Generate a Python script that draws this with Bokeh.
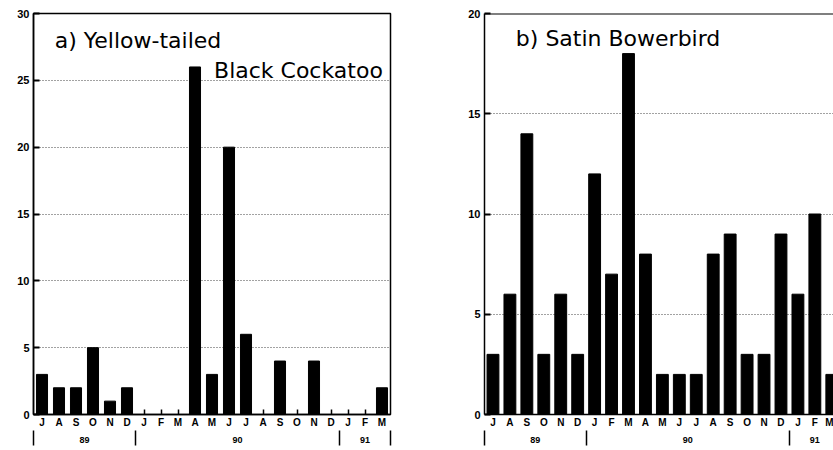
from bokeh.plotting import figure
from bokeh.models import (ColumnDataSource, FixedTicker, LinearAxis, Label,
                          Span, Range1d)
from bokeh.layouts import row
from bokeh.embed import file_html
from bokeh.resources import INLINE

# ---- data -------------------------------------------------------------
months = ["J", "A", "S", "O", "N", "D", "J", "F", "M", "A", "M",
          "J", "J", "A", "S", "O", "N", "D", "J", "F", "M"]
years = ["89", "90", "91"]
year_bounds = [-0.5, 5.5, 17.5, 20.5]  # month-index boundaries of the years
cockatoo = [3, 2, 2, 5, 1, 2, 0, 0, 0, 26, 3, 20, 6, 0, 4, 0, 4, 0, 0, 0, 2]
bowerbird = [3, 6, 14, 3, 6, 3, 12, 7, 18, 8, 2, 2, 2, 8, 9, 3, 3, 9, 6, 10, 2]
yticks_a = [0, 5, 10, 15, 20, 25, 30]
yticks_b = [0, 5, 10, 15, 20]

TICK_FONT = "Liberation Sans"
TITLE_FONT = "DejaVu Sans"


def make_panel(values, yticks, ymax, xr, width, height, borders, bar_w):
    left, right, top, bottom = borders
    p = figure(width=width, height=height, output_backend="svg",
               toolbar_location=None, x_range=Range1d(*xr),
               y_range=Range1d(0, ymax),
               min_border_left=left, min_border_right=right,
               min_border_top=top, min_border_bottom=bottom)
    p.background_fill_color = "white"
    p.border_fill_color = "white"
    src = ColumnDataSource(dict(x=list(range(len(values))), top=values))
    p.vbar(x="x", top="top", width=bar_w, color="black", source=src)

    # y axis
    ya = p.yaxis[0]
    ya.ticker = FixedTicker(ticks=yticks)
    ya.major_tick_in = 6
    ya.major_tick_out = 0
    ya.minor_tick_line_color = None
    ya.axis_line_width = 1.5
    ya.major_tick_line_width = 2
    ya.major_label_standoff = 4
    ya.major_label_text_font = TICK_FONT
    ya.major_label_text_font_style = "bold"
    ya.major_label_text_font_size = "11px"
    ya.major_label_text_color = "black"

    # month axis
    xa = p.xaxis[0]
    xa.ticker = FixedTicker(ticks=list(range(len(months))))
    xa.major_label_overrides = {i: m for i, m in enumerate(months)}
    xa.major_tick_in = 5
    xa.major_tick_out = 0
    xa.minor_tick_line_color = None
    xa.axis_line_width = 1.5
    xa.major_tick_line_width = 1.5
    xa.major_label_standoff = 2
    xa.major_label_text_font = TICK_FONT
    xa.major_label_text_font_style = "bold"
    xa.major_label_text_font_size = "10px"
    xa.major_label_text_color = "black"

    # year axis
    centers = [(year_bounds[i] + year_bounds[i + 1]) / 2 for i in range(len(years))]
    yr = LinearAxis(ticker=FixedTicker(ticks=centers, minor_ticks=year_bounds),
                    major_label_overrides={c: y for c, y in zip(centers, years)})
    yr.axis_line_color = None
    yr.major_tick_in = 0
    yr.major_tick_out = 0
    yr.major_tick_line_color = None
    yr.minor_tick_in = 0
    yr.minor_tick_out = 15
    yr.minor_tick_line_width = 1.5
    yr.minor_tick_line_color = "black"
    yr.major_label_standoff = -9
    yr.major_label_text_font = TICK_FONT
    yr.major_label_text_font_style = "bold"
    yr.major_label_text_font_size = "9px"
    yr.major_label_text_color = "black"
    p.add_layout(yr, "below")

    p.xgrid.grid_line_color = None
    p.ygrid.ticker = FixedTicker(ticks=yticks)
    p.ygrid.grid_line_color = "#444444"
    p.ygrid.grid_line_dash = "1 2"
    p.ygrid.grid_line_width = 1
    return p


pa = make_panel(cockatoo, yticks_a, 30, (-0.5, 20.5), 420, 450,
                (33, 30, 13, 35), 0.65)
pa.outline_line_color = "black"
pa.outline_line_width = 1.5
pa.add_layout(Label(x=0.75, y=28.0, text="a) Yellow-tailed",
                    text_font=TITLE_FONT, text_font_size="22px",
                    text_color="black",
                    text_align="left", text_baseline="alphabetic"))
pa.add_layout(Label(x=20.05, y=25.7, text="Black Cockatoo",
                    text_font=TITLE_FONT, text_font_size="22px",
                    text_color="black",
                    text_align="right", text_baseline="alphabetic"))

pb = make_panel(bowerbird, yticks_b, 20, (-0.5, 20.1), 413, 450,
                (64, 0, 12, 36), 0.7)
pb.outline_line_color = None
pb.add_layout(Span(location=20, dimension="width", line_color="black",
                   line_width=2))
pb.add_layout(Label(x=1.35, y=18.75, text="b) Satin Bowerbird",
                    text_font=TITLE_FONT, text_font_size="22px",
                    text_color="black",
                    text_align="left", text_baseline="alphabetic"))

layout = row(pa, pb)
open("out.html", "w").write(file_html(layout, INLINE))
